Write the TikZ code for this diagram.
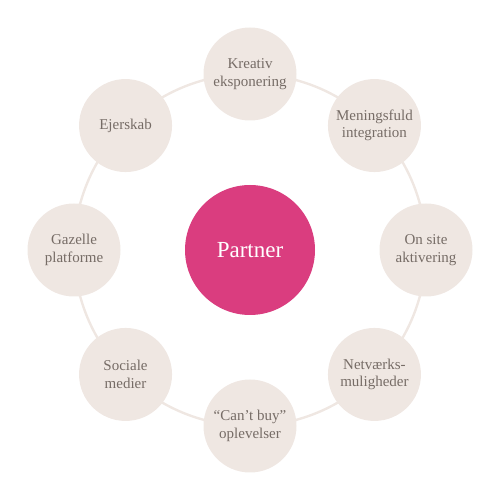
\documentclass[tikz,border=0pt]{standalone}
\usepackage{fontspec}
\setmainfont{Liberation Serif}
\usetikzlibrary{calc,backgrounds}

\definecolor{ringbeige}{HTML}{EFE7E2}
\definecolor{textgrey}{HTML}{766C66}
\definecolor{partnerpink}{HTML}{DA3D7F}

\begin{document}
\begin{tikzpicture}[
  x=1pt, y=1pt,
  every node/.style={circle, minimum size=93pt, inner sep=0pt, align=center,
    text=textgrey, font=\fontsize{15}{17.5}\selectfont},
  topic/.style={fill=ringbeige},
  hub/.style={fill=partnerpink, minimum size=130pt, text=white,
    font=\fontsize{23}{27}\selectfont},
  ring/.style={draw=ringbeige, line width=2.4pt}
]
\useasboundingbox (0,0) rectangle (500,500);

\node[hub] (partner) at (250,250) {Partner};

\node[topic] (kreativ)  at ($(partner)+(90:176)$)   {Kreativ\\eksponering};
\node[topic] (mening)   at ($(partner)+(45:176)$)   {Meningsfuld\\integration};
\node[topic] (onsite)   at ($(partner)+(0:176)$)    {On site\\aktivering};
\node[topic] (netvaerk) at ($(partner)+(-45:176)$)  {Netværks-\\muligheder};
\node[topic] (cantbuy)  at ($(partner)+(-90:176)$)  {“Can’t buy”\\oplevelser};
\node[topic] (sociale)  at ($(partner)+(-135:176)$) {Sociale\\medier};
\node[topic] (gazelle)  at ($(partner)+(180:176)$)  {Gazelle\\platforme};
\node[topic] (ejerskab) at ($(partner)+(135:176)$)  {Ejerskab};

% the ring round the hub
\begin{scope}[on background layer]
\foreach \a/\b in {kreativ/mening, mening/onsite, onsite/netvaerk,
    netvaerk/cantbuy, cantbuy/sociale, sociale/gazelle,
    gazelle/ejerskab, ejerskab/kreativ}
  \draw[ring] (\a.center) to[bend left=22.5, looseness=0.89] (\b.center);
\end{scope}
\end{tikzpicture}
\end{document}
